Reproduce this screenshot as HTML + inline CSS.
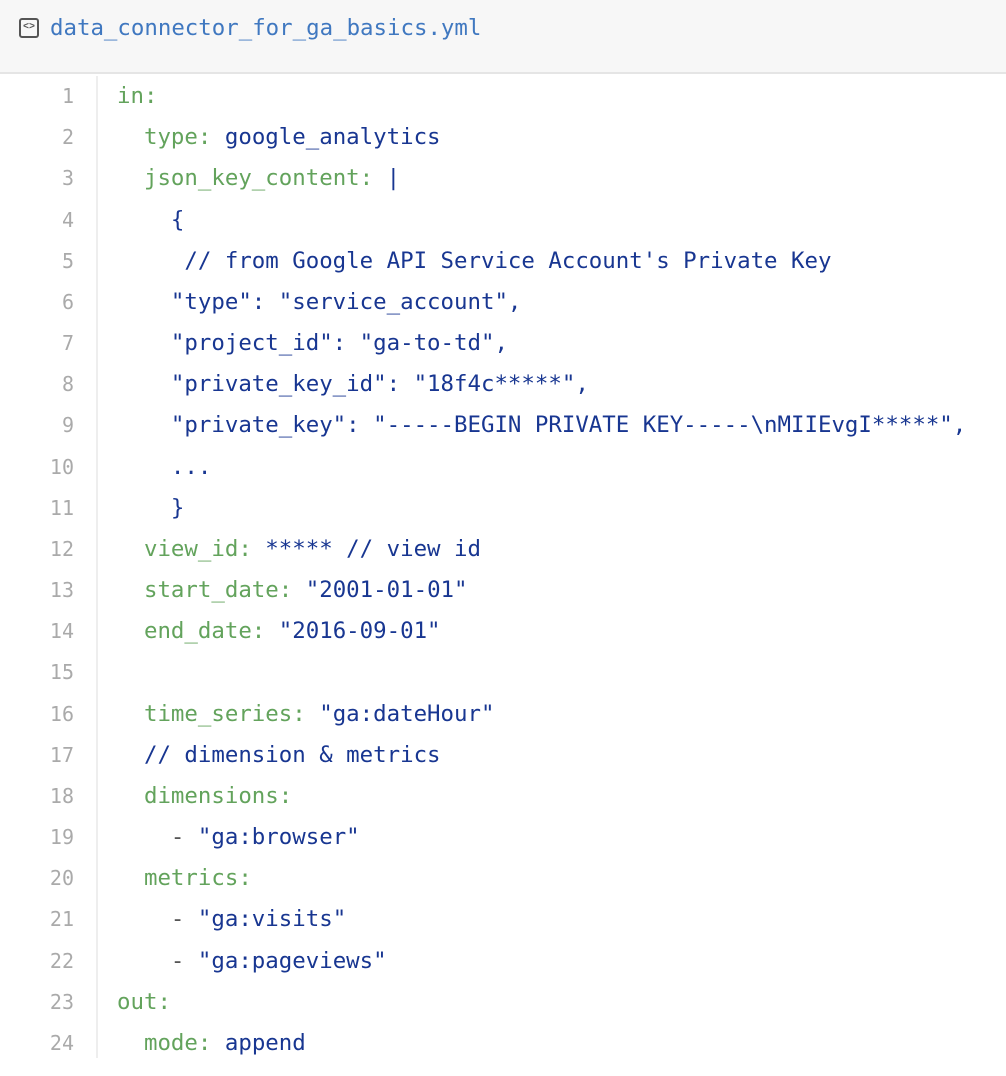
<!DOCTYPE html>
<html><head><meta charset="utf-8"><style>
html,body{margin:0;padding:0;background:#fff;width:1006px;height:1076px;overflow:hidden}
.hdr{position:absolute;left:0;top:0;width:1006px;height:72px;background:#f7f7f7;border-bottom:2px solid #e5e5e5}
.icon{position:absolute;left:19px;top:18px;width:16px;height:16px;border:2px solid #555;border-radius:3px;font:10px "Liberation Mono",monospace;color:#555;text-align:center;line-height:16px;font-weight:bold}
.title{position:absolute;left:50px;top:13px;font:22.4px/30px "DejaVu Sans Mono",monospace;color:#4078c0}
.gut{position:absolute;left:96px;top:76px;width:2px;height:982px;background:#eee}
.ln{position:absolute;left:0;width:74px;text-align:right;font:20px "DejaVu Sans Mono",monospace;color:#aaa}
.cd{position:absolute;left:117px;font:22.4px "DejaVu Sans Mono",monospace;color:#183691;white-space:pre}
.k{color:#63a35c}
.d{color:#555}
</style></head><body>
<div class="hdr"><div class="icon">&lt;&gt;</div><div class="title">data_connector_for_ga_basics.yml</div></div>
<div class="gut"></div>
<div id="c"></div>
<script>
var L=[
'<span class="k">in:</span>',
'  <span class="k">type:</span> google_analytics',
'  <span class="k">json_key_content:</span> |',
'    {',
'     // from Google API Service Account\'s Private Key',
'    "type": "service_account",',
'    "project_id": "ga-to-td",',
'    "private_key_id": "18f4c*****",',
'    "private_key": "-----BEGIN PRIVATE KEY-----\\nMIIEvgI*****",',
'    ...',
'    }',
'  <span class="k">view_id:</span> ***** // view id',
'  <span class="k">start_date:</span> "2001-01-01"',
'  <span class="k">end_date:</span> "2016-09-01"',
'',
'  <span class="k">time_series:</span> "ga:dateHour"',
'  // dimension &amp; metrics',
'  <span class="k">dimensions:</span>',
'    <span class="d">-</span> "ga:browser"',
'  <span class="k">metrics:</span>',
'    <span class="d">-</span> "ga:visits"',
'    <span class="d">-</span> "ga:pageviews"',
'<span class="k">out:</span>',
'  <span class="k">mode:</span> append'];
var h='';
for(var i=0;i<L.length;i++){var y=76+i*41.17;
h+='<div class="ln" style="top:'+y+'px;line-height:41px">'+(i+1)+'</div>';
h+='<div class="cd" style="top:'+y+'px;line-height:41px">'+L[i]+'</div>';}
document.getElementById('c').innerHTML=h;
</script>
</body></html>
